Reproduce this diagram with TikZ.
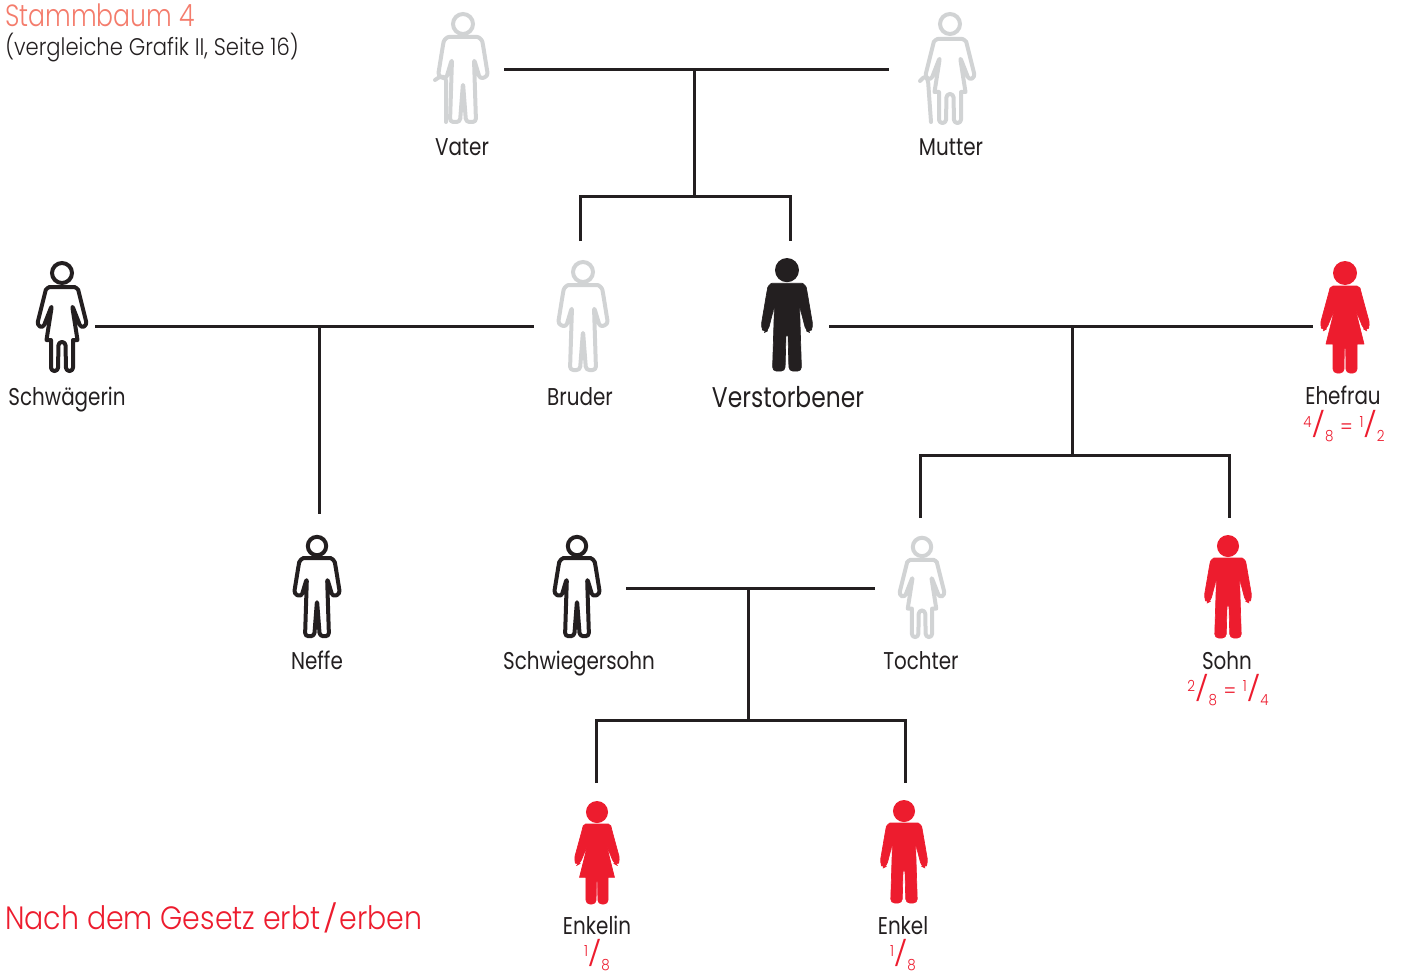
\documentclass[tikz,border=0pt]{standalone}
\usepackage{fontspec}
\setmainfont[FakeStretch=0.82]{Poppins}
\newfontfamily\lightfont[FakeStretch=0.88,UprightFont={* Light}]{Poppins}
\newfontfamily\titlefont[FakeStretch=0.82,UprightFont={* Light}]{Poppins}
\definecolor{figred}{HTML}{ED1C2E}
\definecolor{figgray}{HTML}{D1D3D4}
\definecolor{figblack}{HTML}{231F20}
\definecolor{titlered}{HTML}{F47C6C}
\newcommand{\manpath}{(0,25) -- (11,25) .. controls (16,25) and (19,28) .. (20,33) -- (25,64) -- (17,67) -- (11,47) -- (13,110) -- (3,110) -- (0,71) -- (-3,110) -- (-13,110) -- (-11,47) -- (-17,67) -- (-25,64) -- (-20,33) .. controls (-19,28) and (-16,25) .. (-11,25) -- cycle}
\newcommand{\womanpath}{(0,27) -- (9,27) .. controls (13,27) and (16,29) .. (17,33) -- (25,65) -- (19,68) -- (10,45) [sharp corners] -- (15.5,80) -- (11,80) [rounded corners=2.5pt] -- (11,111) -- (4,111) -- (3.5,82) -- (-3.5,82) -- (-4,111) -- (-11,111) [sharp corners] -- (-11,80) -- (-15.5,80) [rounded corners=2.5pt] -- (-10,45) -- (-19,68) -- (-25,65) -- (-17,33) .. controls (-16,29) and (-13,27) .. (-9,27) -- cycle}
\tikzset{
  conn/.style={draw=figblack,line width=2.25pt},
  lab/.style={anchor=base,inner sep=0pt,text=figblack,font=\fontsize{18.2}{20}\selectfont},
  share/.style={anchor=base,inner sep=0pt,text=figred,font=\lightfont\fontsize{16}{18}\selectfont},
  pics/manfill/.style={code={
    \fill[#1] (0,12) circle[radius=12];
    \filldraw[#1,line width=0.5pt,line join=round,rounded corners=3pt]
      (0,25) -- (11,25) .. controls (16,25) and (19,28) .. (20,33) -- (26,68) -- (23,74) -- (19,72) -- (12.5,47) -- (14.5,112) -- (2,112) -- (1,74) -- (-1,74) -- (-2,112) -- (-14.5,112) -- (-12.5,47) -- (-19,72) -- (-23,74) -- (-26,68) -- (-20,33) .. controls (-19,28) and (-16,25) .. (-11,25) -- cycle;
  }},
  pics/womanfill/.style={code={
    \fill[#1] (0,12) circle[radius=12];
    \filldraw[#1,line width=0.5pt,line join=round,rounded corners=3pt]
      (0,25) -- (8,25) .. controls (12,25) and (15,27) .. (16,31) -- (25,64) -- (22,70) -- (18.5,68) -- (10,47) [sharp corners] -- (19,83) -- (12,83) [rounded corners=3pt] -- (12,112) -- (1,112) -- (0.7,84) -- (-0.7,84) -- (-1,112) -- (-12,112) [sharp corners] -- (-12,83) -- (-19,83) [rounded corners=3pt] -- (-10,47) -- (-18.5,68) -- (-22,70) -- (-25,64) -- (-16,31) .. controls (-15,27) and (-12,25) .. (-8,25) -- cycle;
  }},
  pics/manline/.style={code={
    \draw[#1,line width=3pt] (0,12) circle[radius=10];
    \draw[#1,line width=3pt,line join=round,rounded corners=2.5pt] \manpath;
  }},
  pics/womanline/.style={code={
    \draw[#1,line width=3pt] (0,13) circle[radius=10];
    \draw[#1,line width=3pt,line join=round,rounded corners=2.5pt] \womanpath;
  }},
  pics/manold/.style={code={
    \draw[#1,line width=3pt] (0,12) circle[radius=10];
    \draw[#1,line width=3pt,line join=round,rounded corners=2.5pt] \manpath;
    \draw[#1,line width=3pt,line cap=round,line join=round,rounded corners=2pt] (-28,68) -- (-22,64) -- (-17,66) -- (-17,110);
  }},
  pics/womanold/.style={code={
    \draw[#1,line width=3pt] (0,12) circle[radius=10];
    \draw[#1,line width=3pt,line join=round,rounded corners=2.5pt] \womanpath;
    \draw[#1,line width=3pt,line cap=round,line join=round,rounded corners=2pt] (-30,69) -- (-25,64) -- (-22,68) -- (-19,110);
  }},
}
\newcommand{\frc}[2]{\raisebox{5.2pt}{\fontsize{11.5}{13}\selectfont #1}\kern-0.3pt\raisebox{0.6pt}{\scalebox{1.3}[0.88]{\fontsize{21}{22}\selectfont/}}\kern-0.3pt\raisebox{-5.5pt}{\fontsize{11.5}{13}\selectfont #2}}
\newcommand{\eqs}{\kern5pt=\kern5pt}
\begin{document}
\begin{tikzpicture}[x=0.75pt,y=-0.75pt]
\useasboundingbox (0,0) rectangle (1404,974);
% figures
\pic (fvater) at (463,12) {manold=figgray};
\pic (fmutter) at (950,12) {womanold=figgray};
\pic (fschwaegerin) at (62,260) {womanline=figblack};
\pic (fbruder) at (583,260) {manline=figgray};
\pic[yscale=1.01] (fverst) at (787,258) {manfill=figblack};
\pic (fehefrau) at (1345,261) {womanfill=figred};
\pic[scale=0.92] (fneffe) at (317,535) {manline=figblack};
\pic[scale=0.92] (fschwieger) at (577,535) {manline=figblack};
\pic[scale=0.92] (ftochter) at (922,535) {womanline=figgray};
\pic[scale=0.92] (fsohn) at (1228,535) {manfill=figred};
\pic[scale=0.92] (fenkelin) at (597,801) {womanfill=figred};
\pic[scale=0.92] (fenkel) at (904,800) {manfill=figred};
% labels
\node[lab] (lvater) at (462,156) {Vater};
\node[lab] (lmutter) at (951,156) {Mutter};
\node[lab] (lschw) at (67,405) {Schwägerin};
\node[lab] (lbruder) at (580,405) {Bruder};
\node[lab,font=\fontsize{21.4}{24}\selectfont] (lverst) at (788,407) {Verstorbener};
\node[lab] (lehefrau) at (1343,404) {Ehefrau};
\node[lab] (lneffe) at (317,669) {Neffe};
\node[lab] (lschwieger) at (579,669) {Schwiegersohn};
\node[lab] (ltochter) at (921,669) {Tochter};
\node[lab] (lsohn) at (1227,669) {Sohn};
\node[lab] (lenkelin) at (597,934) {Enkelin};
\node[lab] (lenkel) at (903,934) {Enkel};
\node[share] (sehefrau) at (1344,434) {\frc{4}{8}\eqs\frc{1}{2}};
\node[share] (ssohn) at (1228,698) {\frc{2}{8}\eqs\frc{1}{4}};
\node[share] (senkelin) at (597,963) {\frc{1}{8}};
\node[share] (senkel) at (903,963) {\frc{1}{8}};
\node[anchor=base west,inner sep=0pt,text=titlered,font=\titlefont\fontsize{23}{26}\selectfont] (title) at (5,27) {Stammbaum 4};
\node[anchor=base west,inner sep=0pt,text=figblack,font=\lightfont\fontsize{18}{20}\selectfont] (subtitle) at (5,56) {(vergleiche Grafik II, Seite 16)};
\node[anchor=base west,inner sep=0pt,text=figred,font=\lightfont\fontsize{24.2}{28}\selectfont] (law) at (5,929) {Nach dem Gesetz erbt\kern2pt\raisebox{0.5pt}{\scalebox{1.2}[0.85]{/}}\kern1pt erben};
% connector ends
\coordinate (vaterR) at (504,69.5);
\coordinate (mutterL) at (889,69.5);
\coordinate (parents) at (694.5,69.5);
\coordinate (sibJ) at (694.5,196.5);
\coordinate (sibL) at (580.5,196.5);
\coordinate (sibR) at (790.5,196.5);
\coordinate (bruderT) at (580.5,241);
\coordinate (verstT) at (790.5,241);
\coordinate (schwR) at (95,326.5);
\coordinate (bruderL) at (534,326.5);
\coordinate (j1) at (319.5,326.5);
\coordinate (neffeT) at (319.5,514);
\coordinate (verstR) at (829,326.5);
\coordinate (ehefrauL) at (1313,326.5);
\coordinate (j2) at (1072.5,326.5);
\coordinate (kidJ) at (1072.5,455.5);
\coordinate (kidL) at (920.5,455.5);
\coordinate (kidR) at (1229.5,455.5);
\coordinate (tochterT) at (920.5,518);
\coordinate (sohnT) at (1229.5,518);
\coordinate (schwiegerR) at (626,588.5);
\coordinate (tochterL) at (875,588.5);
\coordinate (j3) at (748.5,588.5);
\coordinate (enkJ) at (748.5,720.5);
\coordinate (enkL) at (596.5,720.5);
\coordinate (enkR) at (905.5,720.5);
\coordinate (enkelinT) at (596.5,783);
\coordinate (enkelT) at (905.5,783);
% connectors
\draw[conn] (vaterR) -- (mutterL);
\draw[conn] (parents) -- (sibJ);
\draw[conn] (bruderT) -- (sibL) -- (sibR) -- (verstT);
\draw[conn] (schwR) -- (bruderL);
\draw[conn] (j1) -- (neffeT);
\draw[conn] (verstR) -- (ehefrauL);
\draw[conn] (j2) -- (kidJ);
\draw[conn] (tochterT) -- (kidL) -- (kidR) -- (sohnT);
\draw[conn] (schwiegerR) -- (tochterL);
\draw[conn] (j3) -- (enkJ);
\draw[conn] (enkelinT) -- (enkL) -- (enkR) -- (enkelT);
\end{tikzpicture}
\end{document}
